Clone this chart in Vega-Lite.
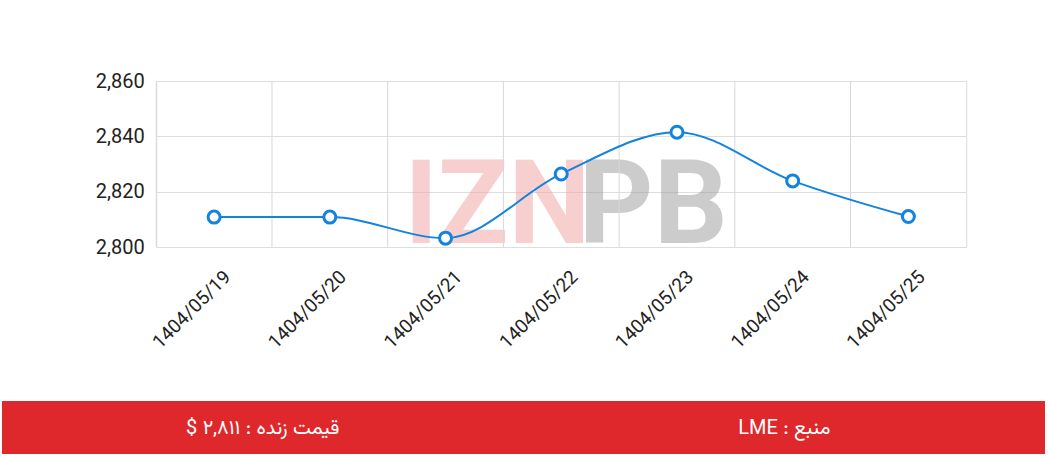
{
  "$schema": "https://vega.github.io/schema/vega-lite/v6.json",
  "background": "white",
  "padding": {"top": 70, "left": 2, "right": 4, "bottom": 3},
  "spacing": 48,
  "center": true,
  "config": {"font": "Roboto", "view": {"stroke": null}},
  "vconcat": [
    {
      "spacing": 0,
      "hconcat": [
        {
          "width": 14,
          "height": 166,
          "data": {"values": []},
          "mark": {"type": "text"},
          "encoding": {}
        },
        {
          "width": 810,
          "height": 166,
          "view": {"stroke": "#dcdcdc"},
          "data": {"values": [
            {"date": "1404/05/19", "price": 2810.8},
            {"date": "1404/05/20", "price": 2810.8},
            {"date": "1404/05/21", "price": 2803.2},
            {"date": "1404/05/22", "price": 2826.4},
            {"date": "1404/05/23", "price": 2841.5},
            {"date": "1404/05/24", "price": 2823.9},
            {"date": "1404/05/25", "price": 2811.0}
          ]},
          "encoding": {
            "x": {
              "field": "date", "type": "ordinal",
              "scale": {"type": "band", "paddingInner": 0, "paddingOuter": 0},
              "axis": {"title": null, "labelAngle": -45, "labelFontSize": 19, "labelColor": "#222", "ticks": false, "domain": false, "grid": false, "labelPadding": 20, "labelOffset": 7}
            }
          },
          "layer": [
            {
              "data": {"values": [{"wm": "IZN"}]},
              "mark": {"type": "text", "fontSize": 116, "fontWeight": "bold", "color": "#f2a0a0", "opacity": 0.5, "dx": -64, "dy": 44},
              "encoding": {"x": null, "text": {"field": "wm"}}
            },
            {
              "data": {"values": [{"wm": "PB"}]},
              "mark": {"type": "text", "fontSize": 116, "fontWeight": "bold", "color": "#9a9a9a", "opacity": 0.5, "dx": 92, "dy": 44},
              "encoding": {"x": null, "text": {"field": "wm"}}
            },
            {
              "mark": {"type": "rule", "color": "#d8d8d8", "strokeWidth": 1},
              "encoding": {"x": {"field": "date", "type": "ordinal", "bandPosition": 0}}
            },
            {
              "mark": {"type": "line", "color": "#1283de", "strokeWidth": 2, "interpolate": "monotone"},
              "encoding": {
                "y": {
                  "field": "price", "type": "quantitative",
                  "scale": {"domain": [2800, 2860], "nice": false, "zero": false},
                  "axis": {"values": [2800, 2820, 2840, 2860], "format": ",.0f", "title": null, "labelFontSize": 20, "labelColor": "#222", "ticks": false, "domain": false, "labelPadding": 12, "gridColor": "#dedede"}
                }
              }
            },
            {
              "mark": {"type": "point", "filled": true, "fill": "white", "stroke": "#1283de", "strokeWidth": 3, "size": 144, "opacity": 1},
              "encoding": {"y": {"field": "price", "type": "quantitative"}}
            }
          ]
        }
      ]
    },
    {
      "width": 1043,
      "height": 53,
      "view": {"fill": "#de282b", "stroke": null},
      "data": {"values": [
        {"pos": "a", "label": "قیمت زنده : ۲,۸۱۱ $‏"},
        {"pos": "b", "label": "‫منبع : LME‬"}
      ]},
      "mark": {"type": "text", "color": "white", "fontSize": 20, "font": "Vazirmatn, Noto Sans Arabic, DejaVu Sans"},
      "encoding": {
        "x": {"field": "pos", "type": "nominal", "axis": null, "scale": {"type": "band", "paddingInner": 0, "paddingOuter": 0}},
        "text": {"field": "label"}
      }
    }
  ]
}
